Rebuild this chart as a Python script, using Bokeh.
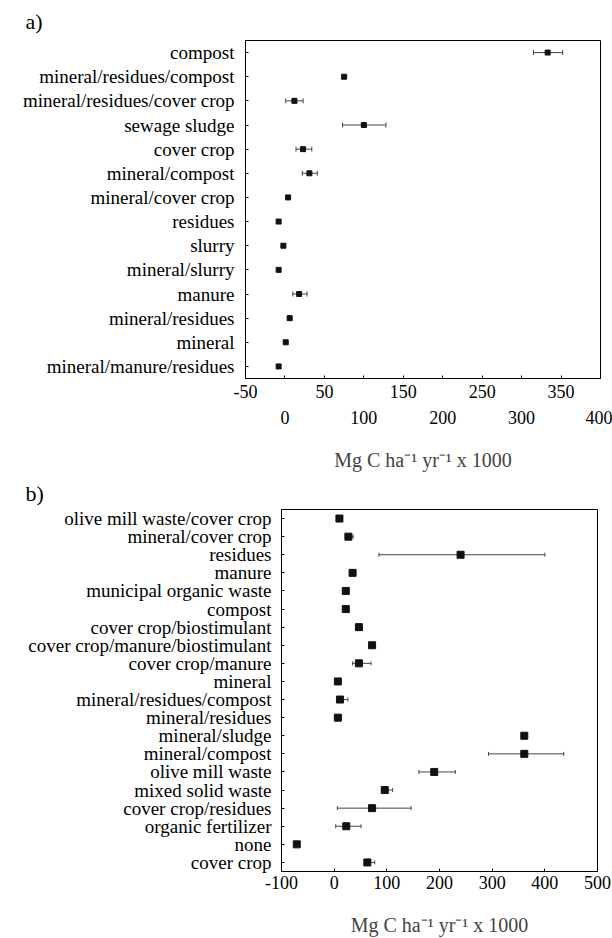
from bokeh.plotting import figure
from bokeh.models import (ColumnDataSource, FactorRange, Range1d, FixedTicker, LinearAxis,
                          Whisker, TeeHead, Title)
from bokeh.embed import file_html
from bokeh.resources import INLINE

FONT = "Liberation Serif"

# ---- panel a) ----
cats_a = ["compost", "mineral/residues/compost", "mineral/residues/cover crop", "sewage sludge",
          "cover crop", "mineral/compost", "mineral/cover crop", "residues", "slurry",
          "mineral/slurry", "manure", "mineral/residues", "mineral", "mineral/manure/residues"]
mean_a = [333, 75, 12, 100, 23, 31, 4, -8, -2, -8, 18, 6, 1, -8]
err_lo_a = [18, 0, 11, 27, 9, 9, 2, 0, 2, 0, 8, 2, 2, 0]
err_hi_a = [19, 0, 11, 28, 11, 10, 2, 0, 2, 0, 10, 2, 2, 0]
ticks_a_top = [-50, 50, 150, 250, 350]
ticks_a_bottom = [0, 100, 200, 300, 400]

# ---- panel b) ----
cats_b = ["olive mill waste/cover crop", "mineral/cover crop", "residues", "manure",
          "municipal organic waste", "compost", "cover crop/biostimulant",
          "cover crop/manure/biostimulant", "cover crop/manure", "mineral",
          "mineral/residues/compost", "mineral/residues", "mineral/sludge", "mineral/compost",
          "olive mill waste", "mixed solid waste", "cover crop/residues", "organic fertilizer",
          "none", "cover crop"]
mean_b = [10, 27, 240, 35, 22, 22, 47, 72, 47, 7, 11, 7, 361, 361, 190, 96, 72, 23, -71, 63]
err_lo_b = [0, 4, 155, 0, 0, 3, 0, 0, 12, 2, 3, 2, 0, 68, 29, 6, 66, 20, 0, 5]
err_hi_b = [0, 9, 160, 0, 0, 5, 0, 0, 23, 2, 15, 3, 0, 75, 40, 15, 74, 28, 0, 14]
ticks_b = [-100, 0, 100, 200, 300, 400, 500]

AXIS_TITLE = "Mg C ha\u207b\u00b9 yr\u207b\u00b9 x 1000"


def style_common(p):
    p.outline_line_color = "black"
    p.outline_line_width = 1
    p.grid.grid_line_color = None
    p.background_fill_color = "white"
    p.border_fill_color = "white"
    for ax in p.axis:
        ax.major_label_text_font = FONT
        ax.axis_label_text_font = FONT
        ax.axis_label_text_font_style = "normal"
        ax.major_label_text_color = "black"
        ax.axis_line_color = "black"
        ax.major_tick_line_color = "black"
        ax.minor_tick_line_color = None
        ax.major_tick_in = 3
        ax.major_tick_out = 0


def panel_title(p, text, offset, standoff):
    t = Title(text=text, align="left", offset=offset, standoff=standoff,
              text_font=FONT, text_font_size="22px", text_font_style="normal",
              text_color="black")
    p.title = t


def add_points(p, cats, mean, lo, hi, size, cap):
    src = ColumnDataSource(dict(cat=cats, mean=mean))
    keep = [i for i in range(len(cats)) if lo[i] > 0 or hi[i] > 0]
    err = ColumnDataSource(dict(
        cat=[cats[i] for i in keep],
        lower=[mean[i] - lo[i] for i in keep],
        upper=[mean[i] + hi[i] for i in keep],
    ))
    w = Whisker(source=err, base="cat", lower="lower", upper="upper", dimension="width",
                line_color="#444444", line_width=1,
                lower_head=TeeHead(size=cap, line_color="#444444", line_width=1),
                upper_head=TeeHead(size=cap, line_color="#444444", line_width=1))
    p.add_layout(w)
    p.scatter("mean", "cat", source=src, marker="square", size=size,
              fill_color="#111111", line_color="#111111")


# panel a figure
pa = figure(width=612, height=474, y_range=FactorRange(*cats_a[::-1]),
            x_range=Range1d(-50, 400), output_backend="svg", toolbar_location=None,
            min_border_left=245, min_border_right=12, min_border_top=40, min_border_bottom=96)
add_points(pa, cats_a, mean_a, err_lo_a, err_hi_a, 5, 5)
pa.xaxis.ticker = FixedTicker(ticks=sorted(ticks_a_top + ticks_a_bottom))
over_a = {t: "" for t in ticks_a_bottom}
over_a[-50] = "-50"
pa.xaxis.major_label_overrides = over_a
pa.xaxis.major_label_standoff = 6
ax2 = LinearAxis(ticker=FixedTicker(ticks=ticks_a_bottom), axis_label=AXIS_TITLE)
pa.add_layout(ax2, "below")
style_common(pa)
ax2.axis_line_color = None
ax2.major_tick_line_color = None
ax2.major_label_standoff = 10
ax2.axis_label_standoff = 22
for ax in pa.xaxis:
    ax.major_label_text_font_size = "18px"
    ax.axis_label_text_font_size = "20px"
pa.yaxis.major_label_text_font_size = "19px"
pa.yaxis.major_label_standoff = 11
panel_title(pa, "a)", -220, 13)

# panel b figure
pb = figure(width=612, height=464, y_range=FactorRange(*cats_b[::-1]),
            x_range=Range1d(-100, 500), output_backend="svg", toolbar_location=None,
            min_border_left=281, min_border_right=15, min_border_top=35, min_border_bottom=67)
add_points(pb, cats_b, mean_b, err_lo_b, err_hi_b, 7, 4)
pb.xaxis.ticker = FixedTicker(ticks=ticks_b)
pb.xaxis.major_label_overrides = {-100: "-100"}
pb.xaxis.axis_label = AXIS_TITLE
style_common(pb)
pb.xaxis.major_label_text_font_size = "18px"
pb.xaxis.axis_label_text_font_size = "20px"
pb.xaxis.major_label_standoff = 4
pb.xaxis.axis_label_standoff = 22
pb.yaxis.major_label_text_font_size = "19px"
pb.yaxis.major_label_standoff = 10
panel_title(pb, "b)", -256, 8)

open("out.html", "w").write(file_html([pa, pb], INLINE))
